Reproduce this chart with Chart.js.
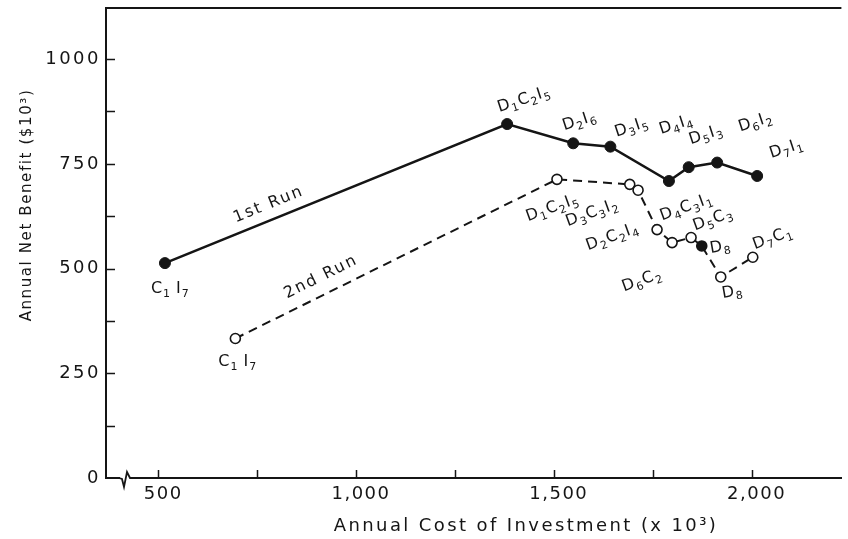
<!DOCTYPE html>
<html>
<head>
<meta charset="utf-8">
<script src="https://cdn.jsdelivr.net/npm/chart.js@4"></script>
<style>
  html, body { margin: 0; padding: 0; background: #fff; }
  canvas { display: block; }
</style>
</head>
<body>
<canvas id="chart" width="848" height="539"></canvas>
<script>
// values (cost in $1000/yr, benefit in $1000/yr)
const run1Cost = [517, 1382, 1549, 1643, 1791, 1841, 1913, 2014];
const run1Benefit = [513, 845, 799, 791, 709, 742, 753, 721];
const run1Labels = ['C1 I7', 'D1C2I5', 'D2I6', 'D3I5', 'D4I4', 'D5I3', 'D6I2', 'D7I1'];

const run2Cost = [695, 1508, 1692, 1713, 1761, 1799, 1847, 1874, 1922, 2003];
const run2Benefit = [333, 713, 701, 687, 593, 562, 574, 554, 480, 527];
const run2Labels = ['C1 I7', 'D1C2I5', 'D3C3I2', 'D2C2I4', 'D4C3I1', 'D6C2', 'D5C3', 'D8', 'D8', 'D7C1'];
const run2Filled = [false, false, false, false, false, false, false, true, false, false];

const xTickLabels = [500, 1000, 1500, 2000];
const xTickMarks = [500, 750, 1000, 1250, 1500, 1750, 2000];
const yTickLabels = [0, 250, 500, 750, 1000];
const yTickMarks = [125, 250, 375, 500, 625, 750, 875, 1000];

const runNames = ['1st Run', '2nd Run'];
const xTitle = 'Annual Cost of Investment (x 10\u00B3)';
const yTitle = 'Annual Net Benefit ($10\u00B3)';

// label placement: [dx, dy, angle] from the point, in pixels
const run1LabelPos = [[-14, 30, 0], [-8, -12, -18], [-9, -13, -18], [6, -10, -18],
  [-8, -47, -18], [2, -23, -18], [23, -31, -18], [14, -18, -18]];
const run2LabelPos = [[-17, 27, 0], [-29, 42, -20], [-62, 42, -20], [-50, 60, -20],
  [5, -9, -20], [-48, 49, -20], [4, -7, -20], [9, 7, -10], [2, 21, -10], [2, -8, -20]];

const INK = '#151515';
const FONT = '"DejaVu Sans", sans-serif';

function byId(id) {
  return document.getElementById(id);
}

function toPoints(xs, ys) {
  return xs.map((x, i) => ({ x, y: ys[i] }));
}

// letters normal, digits as subscripts
function drawSubLabel(ctx, text, x, y, angle) {
  ctx.save();
  ctx.translate(x, y);
  ctx.rotate(angle * Math.PI / 180);
  ctx.fillStyle = INK;
  ctx.textBaseline = 'alphabetic';
  ctx.textAlign = 'left';
  let cx = 0;
  for (const ch of text) {
    if (ch === ' ') { cx += 5; continue; }
    const isDigit = /[0-9]/.test(ch);
    ctx.font = isDigit ? `11px ${FONT}` : `16px ${FONT}`;
    ctx.fillText(ch, cx, isDigit ? 4 : 0);
    cx += ctx.measureText(ch).width + 1;
  }
  ctx.restore();
}

function spacedText(ctx, text, x, y, spacing) {
  ctx.letterSpacing = spacing + 'px';
  ctx.fillText(text, x, y);
  ctx.letterSpacing = '0px';
}

const decorPlugin = {
  id: 'decor',
  afterDraw(chart) {
    const { ctx, chartArea: a, scales: { x, y } } = chart;
    ctx.save();
    ctx.strokeStyle = INK;
    ctx.fillStyle = INK;

    // top frame line
    ctx.lineWidth = 2;
    ctx.beginPath();
    ctx.moveTo(a.left, a.top);
    ctx.lineTo(a.right, a.top);
    ctx.stroke();

    // inward tick marks
    ctx.lineWidth = 1.5;
    ctx.beginPath();
    yTickMarks.forEach(v => {
      const py = Math.round(y.getPixelForValue(v)) + 0.5;
      ctx.moveTo(a.left, py);
      ctx.lineTo(a.left + 9, py);
    });
    xTickMarks.forEach(v => {
      const px = Math.round(x.getPixelForValue(v)) + 0.5;
      ctx.moveTo(px, a.bottom);
      ctx.lineTo(px, a.bottom - 8);
    });
    ctx.stroke();

    // axis break on the cost axis
    ctx.fillStyle = '#fff';
    ctx.fillRect(a.left + 14, a.bottom - 3, 12, 6);
    ctx.lineWidth = 1.8;
    ctx.beginPath();
    ctx.moveTo(a.left + 13, a.bottom);
    ctx.lineTo(a.left + 16, a.bottom + 1);
    ctx.lineTo(a.left + 18, a.bottom + 9);
    ctx.lineTo(a.left + 21, a.bottom - 6);
    ctx.lineTo(a.left + 24, a.bottom);
    ctx.lineTo(a.left + 27, a.bottom);
    ctx.stroke();
    ctx.fillStyle = INK;

    // tick labels
    ctx.font = `18px ${FONT}`;
    ctx.textBaseline = 'middle';
    ctx.textAlign = 'right';
    y.ticks.forEach(t => {
      spacedText(ctx, String(t.value), a.left - 5, y.getPixelForValue(t.value), 2.5);
    });
    ctx.textAlign = 'center';
    x.ticks.forEach(t => {
      const s = t.value >= 1000 ? t.value.toLocaleString('en-US') : String(t.value);
      spacedText(ctx, s, x.getPixelForValue(t.value) + 5, a.bottom + 16, 1.5);
    });

    // axis titles
    ctx.font = `18px ${FONT}`;
    spacedText(ctx, xTitle, 526, a.bottom + 48, 2.4);
    ctx.save();
    ctx.translate(27, 205);
    ctx.rotate(-Math.PI / 2);
    ctx.font = `15px ${FONT}`;
    spacedText(ctx, yTitle, 0, 0, 1.6);
    ctx.restore();

    // point labels
    [[0, run1Labels, run1LabelPos], [1, run2Labels, run2LabelPos]].forEach(([di, labels, pos]) => {
      const meta = chart.getDatasetMeta(di);
      meta.data.forEach((pt, i) => {
        const [dx, dy, ang] = pos[i];
        drawSubLabel(ctx, labels[i], pt.x + dx, pt.y + dy, ang);
      });
    });

    // run names along the first segment of each run
    [[0, 0.32, -11], [1, 0.29, -13]].forEach(([di, t, off], k) => {
      const meta = chart.getDatasetMeta(di);
      const p0 = meta.data[0], p1 = meta.data[1];
      const ang = Math.atan2(p1.y - p0.y, p1.x - p0.x);
      const mx = p0.x + (p1.x - p0.x) * t;
      const my = p0.y + (p1.y - p0.y) * t;
      ctx.save();
      ctx.translate(mx - Math.sin(ang) * off, my + Math.cos(ang) * off);
      ctx.rotate(ang);
      ctx.font = `16px ${FONT}`;
      ctx.textAlign = 'center';
      ctx.textBaseline = 'alphabetic';
      spacedText(ctx, runNames[k], 0, 0, 2);
      ctx.restore();
    });

    ctx.restore();
  }
};

new Chart(byId('chart').getContext('2d'), {
  type: 'line',
  data: {
    datasets: [{
      label: runNames[0],
      data: toPoints(run1Cost, run1Benefit),
      borderColor: INK,
      borderWidth: 2.6,
      pointRadius: 5.5,
      pointBackgroundColor: INK,
      pointBorderColor: INK,
      pointBorderWidth: 1,
      tension: 0
    }, {
      label: runNames[1],
      data: toPoints(run2Cost, run2Benefit),
      borderColor: INK,
      borderWidth: 2,
      borderDash: [9, 6],
      pointRadius: 5,
      pointBackgroundColor: run2Filled.map(f => f ? INK : '#fff'),
      pointBorderColor: INK,
      pointBorderWidth: 1.6,
      tension: 0
    }]
  },
  options: {
    responsive: false,
    animation: false,
    layout: { padding: { top: 8, right: 0, left: 0, bottom: 0 } },
    plugins: {
      legend: { display: false },
      tooltip: { enabled: false }
    },
    scales: {
      x: {
        type: 'linear',
        min: 368,
        max: 2227,
        afterBuildTicks: s => { s.ticks = xTickLabels.map(v => ({ value: v })); },
        afterFit: s => { s.height = 61; },
        ticks: { display: false },
        grid: { drawOnChartArea: false, drawTicks: false },
        border: { color: INK, width: 2 }
      },
      y: {
        min: 0,
        max: 1122,
        afterBuildTicks: s => { s.ticks = yTickLabels.map(v => ({ value: v })); },
        afterFit: s => { s.width = 106; },
        ticks: { display: false },
        grid: { drawOnChartArea: false, drawTicks: false },
        border: { color: INK, width: 2 }
      }
    }
  },
  plugins: [decorPlugin]
});
</script>
</body>
</html>
